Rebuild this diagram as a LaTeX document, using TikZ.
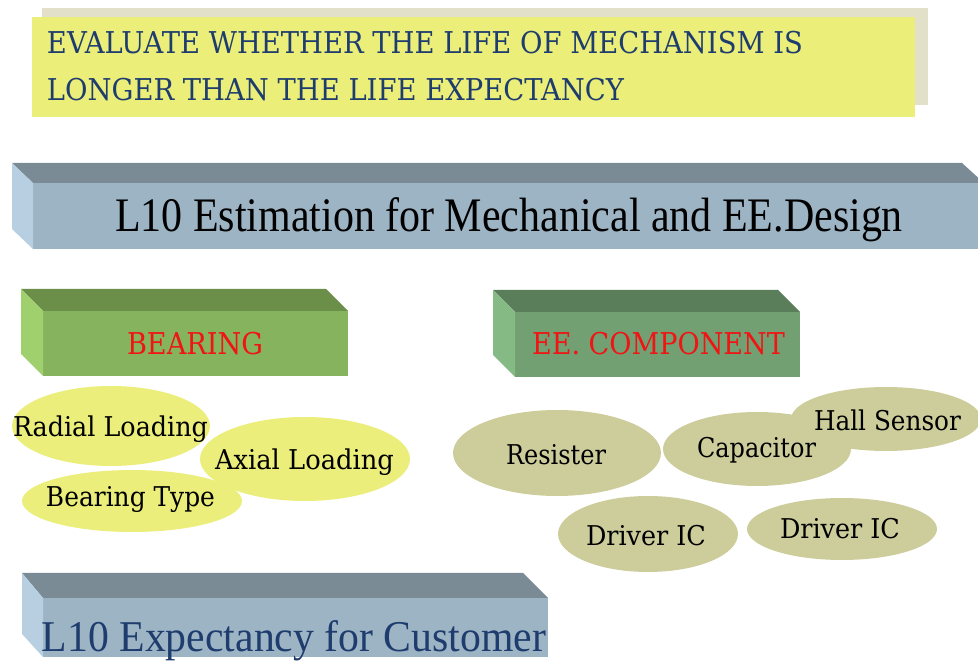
\documentclass[tikz,border=0pt]{standalone}
\usepackage{fontspec}
\setmainfont{Liberation Serif}
\newfontfamily\slabfont{DejaVu Serif}
\usetikzlibrary{shapes.geometric}

% palette
\definecolor{noteFill}{RGB}{235,238,120}
\definecolor{noteShade}{RGB}{226,224,200}
\definecolor{noteInk}{RGB}{30,60,110}
\definecolor{barTop}{RGB}{122,139,150}
\definecolor{barFront}{RGB}{157,180,196}
\definecolor{barSide}{RGB}{183,207,224}
\definecolor{brgTop}{RGB}{107,142,72}
\definecolor{brgFront}{RGB}{134,179,94}
\definecolor{brgSide}{RGB}{160,208,110}
\definecolor{eeTop}{RGB}{90,125,90}
\definecolor{eeFront}{RGB}{114,160,114}
\definecolor{eeSide}{RGB}{133,186,133}
\definecolor{bubbleY}{RGB}{235,238,122}
\definecolor{bubbleK}{RGB}{205,205,156}
\definecolor{headRed}{RGB}{240,20,20}

% stretch a text to a given width, keeping its height
\newcommand\fitto[2]{\resizebox{#1}{\height}{#2}}

\tikzset{
  txt/.style={anchor=base west, inner sep=0pt, outer sep=0pt},
  bubble/.style={ellipse, inner sep=0pt, draw=none},
  ybub/.style={bubble, fill=bubbleY},
  kbub/.style={bubble, fill=bubbleK},
  bubtxt/.style={txt, font=\fontsize{15.5}{18}\slabfont, text=black},
  headtxt/.style={txt, font=\fontsize{17.1}{20}\slabfont, text=headRed},
}

\begin{document}
\begin{tikzpicture}[x=0.02cm, y=-0.02cm]
  \useasboundingbox (0,0) rectangle (978,661);
  \clip (0,0) rectangle (978,661);

  % note with its shadow
  \fill[noteShade] (42,8) rectangle (928,105);
  \fill[noteFill] (32,17) rectangle (915,117);
  \node[txt, font=\fontsize{17.1}{20}\slabfont, text=noteInk] (note1) at (47,54)
    {\fitto{15.12cm}{EVALUATE WHETHER THE LIFE OF MECHANISM IS}};
  \node[txt, font=\fontsize{17.1}{20}\slabfont, text=noteInk] (note2) at (47,101)
    {\fitto{11.54cm}{LONGER THAN THE LIFE EXPECTANCY}};

  % upper bar
  \fill[barTop] (12,163) -- (962,163) -- (984,183) -- (33,183) -- cycle;
  \fill[barFront] (33,183) rectangle (984,249);
  \fill[barSide] (12,163) -- (33,183) -- (33,249) -- (12,229) -- cycle;
  \node[txt, font=\fontsize{27.4}{32}\selectfont, text=black] (est) at (115,232)
    {\fitto{15.76cm}{L10 Estimation for Mechanical and EE.Design}};

  % bearing block
  \fill[brgTop] (21,289) -- (326,289) -- (348,311) -- (43,311) -- cycle;
  \fill[brgFront] (43,311) rectangle (348,376);
  \fill[brgSide] (21,289) -- (43,311) -- (43,376) -- (21,354) -- cycle;
  \node[headtxt] (bearing) at (127,355) {\fitto{2.72cm}{BEARING}};

  % EE component block
  \fill[eeTop] (493,290) -- (778,290) -- (800,312) -- (515,312) -- cycle;
  \fill[eeFront] (515,312) rectangle (800,377);
  \fill[eeSide] (493,290) -- (515,312) -- (515,377) -- (493,355) -- cycle;
  \node[headtxt] (eecomp) at (532,355) {\fitto{5.06cm}{EE. COMPONENT}};

  % bearing factors
  \node[ybub, minimum width=3.96cm, minimum height=1.6cm] (radialB) at (111,426) {};
  \node[ybub, minimum width=4.2cm, minimum height=1.68cm] (axialB) at (305,459) {};
  \node[ybub, minimum width=4.4cm, minimum height=1.24cm] (typeB) at (132,501) {};

  % EE parts
  \node[kbub, minimum width=4.16cm, minimum height=1.72cm] (resB) at (557,453) {};
  \node[kbub, minimum width=3.76cm, minimum height=1.48cm] (capB) at (757,449) {};
  \node[kbub, minimum width=3.8cm, minimum height=1.28cm] (hallB) at (886,419) {};
  \node[kbub, minimum width=3.6cm, minimum height=1.52cm] (drvaB) at (648,534) {};
  \node[kbub, minimum width=3.8cm, minimum height=1.24cm] (drvbB) at (842,529) {};

  \node[bubtxt] (radialT) at (13,437) {\fitto{3.9cm}{Radial Loading}};
  \node[bubtxt] (axialT) at (215,470) {\fitto{3.58cm}{Axial Loading}};
  \node[bubtxt] (typeT) at (46,507) {\fitto{3.38cm}{Bearing Type}};
  \node[bubtxt] (resT) at (506,465) {\fitto{2.0cm}{Resister}};
  \node[bubtxt] (capT) at (697,458) {\fitto{2.38cm}{Capacitor}};
  \node[bubtxt] (hallT) at (814,431) {\fitto{2.94cm}{Hall Sensor}};
  \node[bubtxt] (drvaT) at (586,546) {\fitto{2.4cm}{Driver IC}};
  \node[bubtxt] (drvbT) at (780,539) {\fitto{2.4cm}{Driver IC}};

  % lower bar
  \fill[barTop] (22,573) -- (523,573) -- (548,598) -- (43,598) -- cycle;
  \fill[barFront] (43,598) rectangle (548,657);
  \fill[barSide] (22,573) -- (43,598) -- (43,657) -- (22,634) -- cycle;
  \node[txt, font=\fontsize{25}{30}\selectfont, text=noteInk] (expect) at (42,652)
    {\fitto{10.08cm}{L10 Expectancy for Customer}};
\end{tikzpicture}
\end{document}
